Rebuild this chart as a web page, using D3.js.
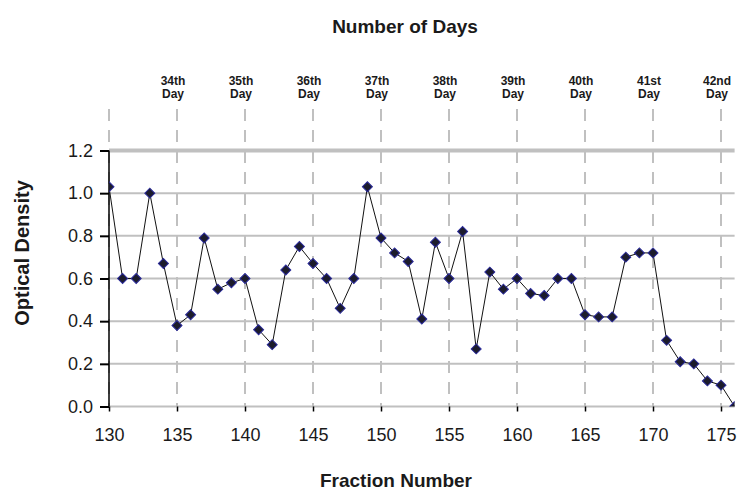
<!DOCTYPE html>
<html>
<head>
<meta charset="utf-8">
<script src="https://cdn.jsdelivr.net/npm/d3@7"></script>
<style>
  body { margin: 0; background: #fff; }
  text { font-family: "Liberation Sans", Arial, sans-serif; fill: #1a1a1a; }
</style>
</head>
<body>
<script>
// data
const fractions = [130,131,132,133,134,135,136,137,138,139,140,141,142,143,144,145,146,147,148,149,150,
                   151,152,153,154,155,156,157,158,159,160,161,162,163,164,165,166,167,168,169,170,
                   171,172,173,174,175,176];
const density = [1.03,0.60,0.60,1.00,0.67,0.38,0.43,0.79,0.55,0.58,0.60,0.36,0.29,0.64,0.75,0.67,0.60,0.46,0.60,1.03,0.79,
                 0.72,0.68,0.41,0.77,0.60,0.82,0.27,0.63,0.55,0.60,0.53,0.52,0.60,0.60,0.43,0.42,0.42,0.70,0.72,0.72,
                 0.31,0.21,0.20,0.12,0.10,0.00];
const dayPos = [135,140,145,150,155,160,165,170,175];
const dayLabels = ["34th","35th","36th","37th","38th","39th","40th","41st","42nd"];
const xTicks = [130,135,140,145,150,155,160,165,170,175];
const yTicks = [0,0.2,0.4,0.6,0.8,1.0,1.2];

const width = 739, height = 493;
const plotLeft = 109, plotRight = 734.6, plotTop = 150.5, plotBottom = 406.5, dashTop = 109;

const svg = d3.select("body").append("svg")
    .attr("width", width).attr("height", height);

const x = d3.scaleLinear().domain([130,176]).range([plotLeft, plotRight]);
const y = d3.scaleLinear().domain([0,1.2]).range([plotBottom, plotTop]);

// horizontal gridlines
svg.append("g").selectAll("line").data(yTicks).join("line")
    .attr("x1", plotLeft).attr("x2", plotRight)
    .attr("y1", d => y(d)).attr("y2", d => y(d))
    .attr("stroke", "#c0c0c0")
    .attr("stroke-width", d => d === 1.2 ? 4 : 2);

// vertical dashed day lines
svg.append("g").selectAll("line").data(xTicks).join("line")
    .attr("x1", d => x(d)).attr("x2", d => x(d))
    .attr("y1", dashTop).attr("y2", plotBottom)
    .attr("stroke", "#c0c0c0")
    .attr("stroke-width", 2)
    .attr("stroke-dasharray", "12,9");

// y axis
const yAxis = d3.axisLeft(y).tickValues(yTicks).tickFormat(d3.format(".1f")).tickSize(9).tickPadding(7);
const gy = svg.append("g").attr("transform", `translate(${plotLeft},0)`).call(yAxis);
gy.select(".domain").attr("stroke", "#000").attr("stroke-width", 1.5).attr("d", `M0,${plotTop}V${plotBottom}`);
gy.selectAll(".tick line").attr("stroke", "#000").attr("stroke-width", 2);
gy.selectAll(".tick text").attr("font-size", 18).attr("font-family", "Liberation Sans, Arial").attr("fill", "#1a1a1a");

// x axis
const xAxis = d3.axisBottom(x).tickValues(xTicks).tickSize(5).tickPadding(17);
const gx = svg.append("g").attr("transform", `translate(0,${plotBottom})`).call(xAxis);
gx.select(".domain").remove();
gx.selectAll(".tick line").attr("stroke", "#000").attr("stroke-width", 1.5);
gx.selectAll(".tick text").attr("font-size", 18).attr("font-family", "Liberation Sans, Arial").attr("fill", "#1a1a1a");

// day labels on top (two lines each)
const dayG = svg.append("g").attr("font-size", 12).attr("font-weight", "bold").attr("text-anchor", "middle");
dayG.selectAll("text.num").data(dayPos).join("text").attr("class", "num")
    .attr("x", d => x(d) - 4).attr("y", 85).text((d, i) => dayLabels[i]);
dayG.selectAll("text.day").data(dayPos).join("text").attr("class", "day")
    .attr("x", d => x(d) - 4).attr("y", 97.5).text("Day");

// clip
svg.append("clipPath").attr("id", "plot")
  .append("rect").attr("x", plotLeft).attr("y", plotTop - 2).attr("width", plotRight - plotLeft).attr("height", plotBottom - plotTop + 2);

const pts = fractions.map((f, i) => ({f: f, v: density[i]}));

const line = d3.line().x(d => x(d.f)).y(d => y(d.v));
svg.append("path")
    .datum(pts)
    .attr("clip-path", "url(#plot)")
    .attr("fill", "none")
    .attr("stroke", "#111")
    .attr("stroke-width", 1)
    .attr("d", line);

const diamond = d3.symbol(d3.symbolSquare, 50);
svg.append("g").attr("clip-path", "url(#plot)")
  .selectAll("path").data(pts).join("path")
    .attr("d", diamond)
    .attr("transform", d => `translate(${x(d.f)},${y(d.v)}) rotate(45)`)
    .attr("fill", "#1c1c2c")
    .attr("stroke", "#2a2a9a")
    .attr("stroke-width", 1);

// titles
svg.append("text").attr("x", 405).attr("y", 33)
    .attr("text-anchor", "middle").attr("font-size", 19).attr("font-weight", "bold")
    .text("Number of Days");
svg.append("text").attr("x", 396).attr("y", 487)
    .attr("text-anchor", "middle").attr("font-size", 19).attr("font-weight", "bold")
    .text("Fraction Number");
svg.append("text")
    .attr("transform", "translate(29,253) rotate(-90)")
    .attr("text-anchor", "middle").attr("font-size", 20).attr("font-weight", "bold")
    .text("Optical Density");
</script>
</body>
</html>
